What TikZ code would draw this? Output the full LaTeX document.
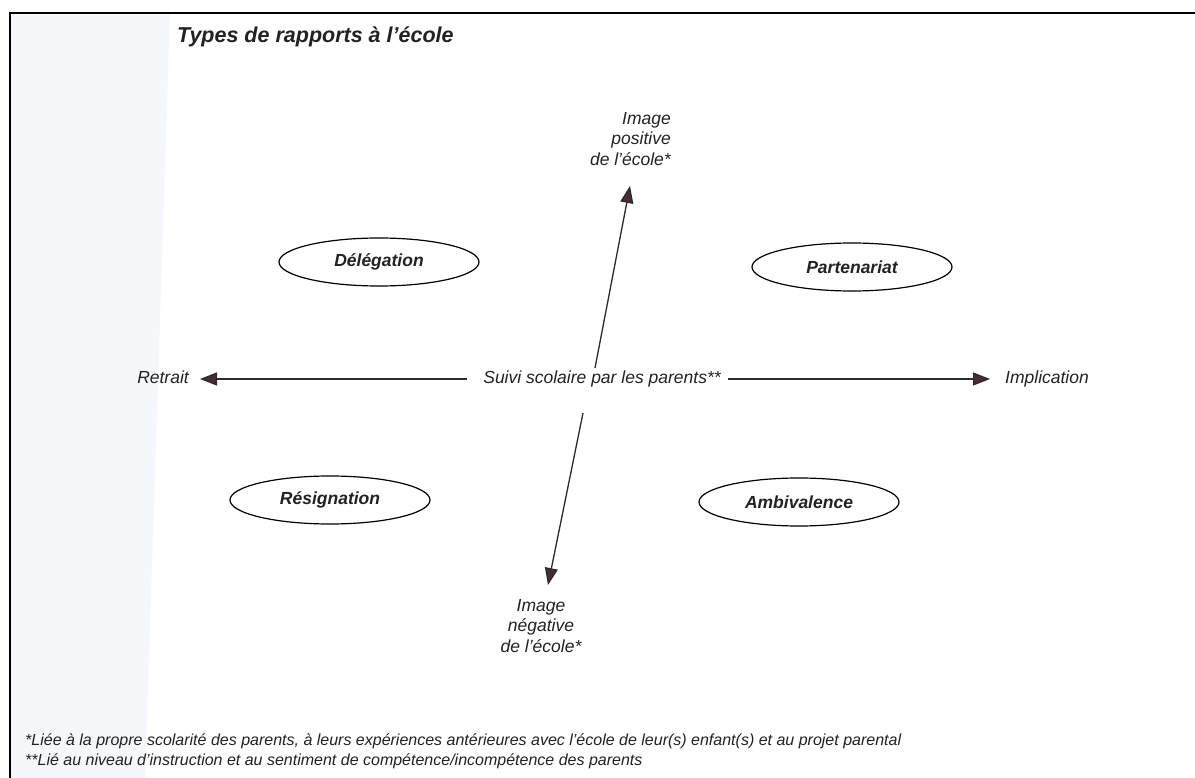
\documentclass[tikz,border=0pt]{standalone}
\usepackage{fontspec}
\setmainfont{Liberation Sans}
\usetikzlibrary{arrows.meta,shapes.geometric}
\definecolor{headc}{HTML}{4A2B33}
\definecolor{linec}{HTML}{2B2B2B}
\definecolor{scan}{HTML}{F5F7FA}
\definecolor{txt}{HTML}{222222}
\begin{document}
\begin{tikzpicture}[x=1pt,y=-1pt,
  lab/.style={font=\fontsize{17.5}{20.5}\selectfont\itshape, inner sep=0pt, text=txt},
  one/.style={text height=12.5pt, text depth=3.7pt},
  quad/.style={ellipse, draw=black, line width=1.2pt, minimum width=200pt, minimum height=48pt,
    font=\fontsize{17.5}{20}\selectfont\bfseries\itshape, inner sep=0pt, text=txt},
  axis/.style={draw=linec, line width=1.3pt, -{Triangle[length=17pt,width=13pt,fill=headc]}},
  note/.style={font=\fontsize{16}{18}\selectfont\itshape, anchor=west, inner sep=0pt, text=txt}]
\useasboundingbox (0,0) rectangle (1195,778);
\fill[white] (0,0) rectangle (1195,778);
\fill[scan] (11,14) -- (170,14) -- (145,778) -- (11,778) -- cycle;
\draw[line width=2pt] (10,778) -- (10,13) -- (1195,13);

\node[anchor=west, font=\fontsize{21.5}{24}\selectfont\bfseries\itshape, inner sep=0pt, text=txt] (title) at (177,37) {Types de rapports à l'école};

\node[quad] (del) at (379,262) {Délégation};
\node[quad] (par) at (852,267) {Partenariat};
\node[quad] (res) at (330,500) {Résignation};
\node[quad] (amb) at (799,502) {Ambivalence};

\node[lab, one] (suivi) at (602,379) {Suivi scolaire par les parents**};
\node[lab, one, anchor=east] (retrait) at (189,379) {Retrait};
\node[lab, one, anchor=west] (impl) at (1005,379) {Implication};
\node[lab, align=right, anchor=north east] (pos) at (671,112) {Image\\positive\\de l'école*};
\node[lab, align=center, anchor=north] (neg) at (541,599) {Image\\négative\\de l'école*};

\coordinate (upS) at (595,368);
\coordinate (upT) at (630,186);
\coordinate (dnS) at (583,413);
\coordinate (dnT) at (548,585);
\draw[axis] (upS) -- (upT);
\draw[axis] (dnS) -- (dnT);
\draw[axis, shorten <=16pt, shorten >=11pt] (suivi) -- (retrait);
\draw[axis, shorten <=7pt, shorten >=15pt] (suivi) -- (impl);

\node[note] (n1) at (25,741) {*Liée à la propre scolarité des parents, à leurs expériences antérieures avec l'école de leur(s) enfant(s) et au projet parental};
\node[note] (n2) at (25,761) {**Lié au niveau d'instruction et au sentiment de compétence/incompétence des parents};
\end{tikzpicture}
\end{document}
